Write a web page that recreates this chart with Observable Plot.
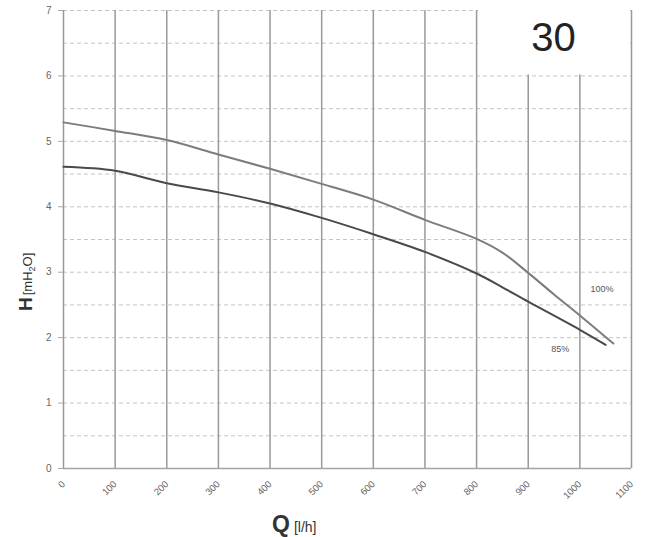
<!DOCTYPE html>
<html><head><meta charset="utf-8">
<script src="https://cdn.jsdelivr.net/npm/d3@7"></script>
<script src="https://cdn.jsdelivr.net/npm/@observablehq/plot@0.6"></script>
<style>body{margin:0;background:#fff} svg{display:block}</style>
</head><body><div id="chart"></div>
<script>
// Q [l/h] and H [mH2O]
const flow100 = [0,100,200,300,400,500,600,700,800,850,900,950,1000,1065];
const head100 = [5.29,5.16,5.02,4.80,4.58,4.35,4.11,3.80,3.51,3.30,2.99,2.66,2.34,1.91];
const flow85 = [0,100,200,300,400,500,600,700,800,850,900,1000,1050];
const head85 = [4.61,4.55,4.36,4.22,4.05,3.83,3.58,3.31,2.98,2.77,2.55,2.12,1.89];
const xTicks = [0,100,200,300,400,500,600,700,800,900,1000,1100];
const yTicks = [0,1,2,3,4,5,6,7];
const yGrid = [0.5,1,1.5,2,2.5,3,3.5,4,4.5,5,5.5,6,6.5,7];
const seriesLabels = ["100%","85%"];
const modelLabel = "30";

const line100 = flow100.map((q,i)=>({q, h:head100[i]}));
const line85 = flow85.map((q,i)=>({q, h:head85[i]}));

const font = "'Liberation Sans', Arial, sans-serif";
const chart = Plot.plot({
  width:646, height:537,
  marginLeft:63, marginRight:15, marginTop:10, marginBottom:69,
  style:{fontFamily:font, background:"#fff", overflow:"visible"},
  x:{domain:[0,1100], label:null},
  y:{domain:[0,7], label:null},
  marks:[
    Plot.ruleY(yGrid, {stroke:"#c4c4c4", strokeDasharray:"4,3", strokeWidth:1}),
    Plot.ruleX(xTicks, {stroke:"#999", strokeWidth:1.5}),
    Plot.rect([{x1:800,x2:1100,y1:6,y2:7}], {x1:"x1",x2:"x2",y1:"y1",y2:"y2", fill:"white", insetLeft:2, insetRight:2, insetBottom:1, insetTop:-10}),
    Plot.ruleY([0], {stroke:"#a3a3a3", strokeWidth:1.5}),
    Plot.axisY({ticks:yTicks, tickSize:5, tickPadding:7, fontSize:10, color:"#666", stroke:"#aaa", tickFormat:d3.format("d")}),
    Plot.axisX({ticks:xTicks, tickSize:0, tickRotate:-45, tickPadding:14, fontSize:9.5, color:"#666", tickFormat:d3.format("d")}),
    Plot.line(line100, {x:"q", y:"h", curve:"catmull-rom", stroke:"#7c7c7c", strokeWidth:2}),
    Plot.line(line85, {x:"q", y:"h", curve:"catmull-rom", stroke:"#4a4a4a", strokeWidth:2}),
    Plot.text([seriesLabels[0]], {x:[1043], y:[2.74], text:d=>d, fontSize:9, fill:"#555"}),
    Plot.text([seriesLabels[1]], {x:[962], y:[1.82], text:d=>d, fontSize:9, fill:"#555"}),
    Plot.text([modelLabel], {x:[949], y:[6.58], text:d=>d, fontSize:40, fill:"#222"})
  ]
});
const svg = d3.select(chart);
// Y axis title
const yt = svg.append("text").attr("transform","translate(32,311) rotate(-90)")
  .attr("text-anchor","start").attr("font-family",font).attr("fill","#333");
yt.append("tspan").attr("font-size",19).attr("font-weight","bold").text("H");
yt.append("tspan").attr("font-size",13).attr("dx",2).text("[mH");
yt.append("tspan").attr("font-size",9).attr("dy",3).text("2");
yt.append("tspan").attr("font-size",13).attr("dy",-3).text("O]");
// X axis title
const xt = svg.append("text").attr("x",272).attr("y",532)
  .attr("text-anchor","start").attr("font-family",font).attr("fill","#333");
xt.append("tspan").attr("font-size",23).attr("font-weight","bold").text("Q");
xt.append("tspan").attr("font-size",14).attr("dx",4).text("[l/h]");
document.getElementById("chart").appendChild(chart);
</script>
</body></html>
